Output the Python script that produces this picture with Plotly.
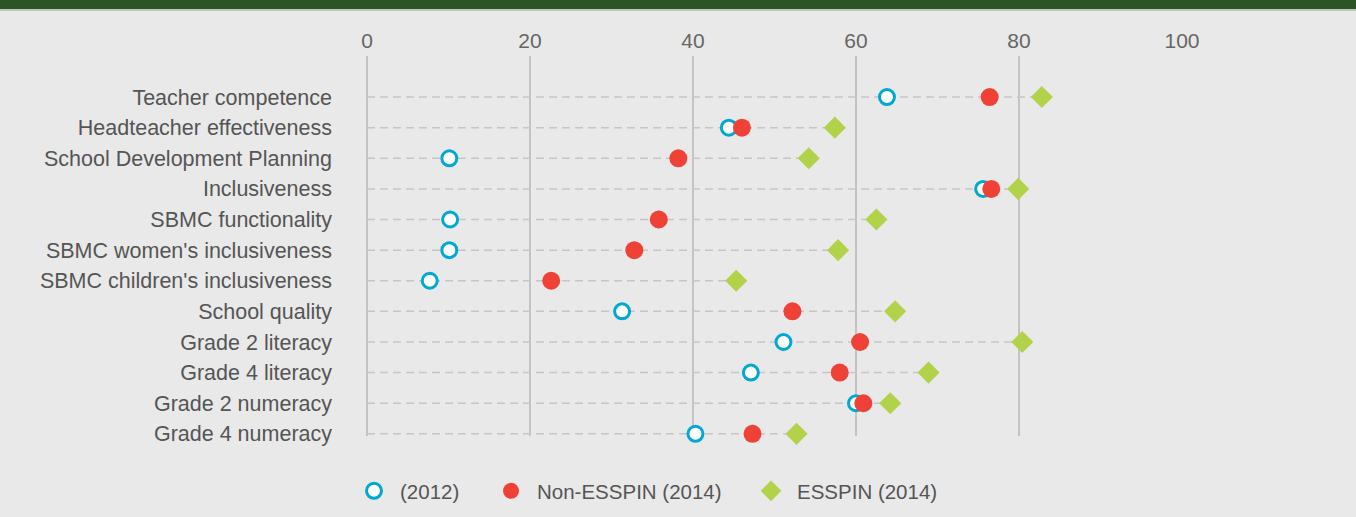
import plotly.graph_objects as go

categories = [
    "Teacher competence",
    "Headteacher effectiveness",
    "School Development Planning",
    "Inclusiveness",
    "SBMC functionality",
    "SBMC women's inclusiveness",
    "SBMC children's inclusiveness",
    "School quality",
    "Grade 2 literacy",
    "Grade 4 literacy",
    "Grade 2 numeracy",
    "Grade 4 numeracy",
]
baseline_2012 = [63.8, 44.4, 10.1, 75.6, 10.2, 10.1, 7.7, 31.3, 51.1, 47.1, 60.0, 40.3]
non_esspin_2014 = [76.4, 46.0, 38.2, 76.6, 35.8, 32.8, 22.6, 52.2, 60.5, 58.0, 60.9, 47.3]
esspin_2014 = [82.8, 57.4, 54.2, 79.9, 62.5, 57.8, 45.3, 64.8, 80.4, 68.9, 64.2, 52.7]
x_ticks = [0, 20, 40, 60, 80, 100]
series_names = ["(2012)", "Non-ESSPIN (2014)", "ESSPIN (2014)"]

W, H = 1356, 517
ML, MR, MT, MB = 367, 174, 56, 81
BG = "#e9e9e9"
BLUE = "#00a8d4"
RED = "#ef4136"
GREEN = "#b2d24a"
FONT = "Liberation Sans, Arial, sans-serif"

fig = go.Figure()

# dashed guide lines from 0 to the row's highest value
lx, ly = [], []
for c, a, b, d in zip(categories, baseline_2012, non_esspin_2014, esspin_2014):
    lx += [0, max(a, b, d), None]
    ly += [c, c, None]
fig.add_trace(go.Scatter(
    x=lx, y=ly, mode="lines", showlegend=False, hoverinfo="skip",
    line=dict(color="#c6c6c6", width=1.5, dash="8px,5px"), cliponaxis=False,
))

fig.add_trace(go.Scatter(
    x=baseline_2012, y=categories, mode="markers", name=series_names[0],
    marker=dict(symbol="circle", size=15, color="white", line=dict(color=BLUE, width=3)),
    legend="legend", cliponaxis=False,
))
fig.add_trace(go.Scatter(
    x=non_esspin_2014, y=categories, mode="markers", name=series_names[1],
    marker=dict(symbol="circle", size=18, color=RED, line=dict(width=0)),
    legend="legend2", cliponaxis=False,
))
fig.add_trace(go.Scatter(
    x=esspin_2014, y=categories, mode="markers", name=series_names[2],
    marker=dict(symbol="diamond", size=17, color=GREEN, line=dict(width=0)),
    legend="legend3", cliponaxis=False,
))

plot_h = H - MT - MB
def py(pix):
    return (H - MB - pix) / plot_h

def legend_at(xpix):
    return dict(
        xref="container", yref="container", x=xpix / W, y=1 - 491 / H,
        xanchor="left", yanchor="middle", orientation="h",
        bgcolor="rgba(0,0,0,0)", borderwidth=0, itemwidth=42,
        font=dict(family=FONT, size=20.5, color="#555555"),
    )

fig.update_layout(
    width=W, height=H,
    margin=dict(l=ML, r=MR, t=MT, b=MB, pad=0),
    paper_bgcolor=BG, plot_bgcolor=BG,
    font=dict(family=FONT, size=21, color="#555555"),
    showlegend=True,
    legend=legend_at(348),
    legend2=legend_at(485),
    legend3=legend_at(745),
    xaxis=dict(
        side="top", range=[0, 100], tickvals=x_ticks,
        showgrid=True, gridcolor="#c3c3c3", gridwidth=1.5,
        zeroline=True, zerolinecolor="#c3c3c3", zerolinewidth=1.5,
        showline=False, ticks="", ticklabelstandoff=3,
        tickfont=dict(family=FONT, size=21, color="#666666"),
        fixedrange=True,
    ),
    yaxis=dict(
        type="category", categoryorder="array", categoryarray=categories,
        range=[11.07, -1.34], showgrid=False, zeroline=False, showline=False,
        ticks="", ticklabelstandoff=34,
        tickfont=dict(family=FONT, size=21.5, color="#555555"),
        fixedrange=True,
    ),
    shapes=[
        dict(type="rect", xref="paper", yref="paper",
             x0=-ML / (W - ML - MR) - 0.1, x1=2, y0=py(9), y1=py(-2),
             fillcolor="#2d5427", line=dict(width=0), layer="above"),
        dict(type="line", xref="paper", yref="paper",
             x0=-ML / (W - ML - MR) - 0.1, x1=2, y0=py(10), y1=py(10),
             line=dict(color="#8fae84", width=1.2), layer="above"),
    ],
)

fig.write_html(
    "out.html",
    config={"displayModeBar": False},
    post_script="document.body.style.margin='0';document.body.style.overflow='hidden';",
)
